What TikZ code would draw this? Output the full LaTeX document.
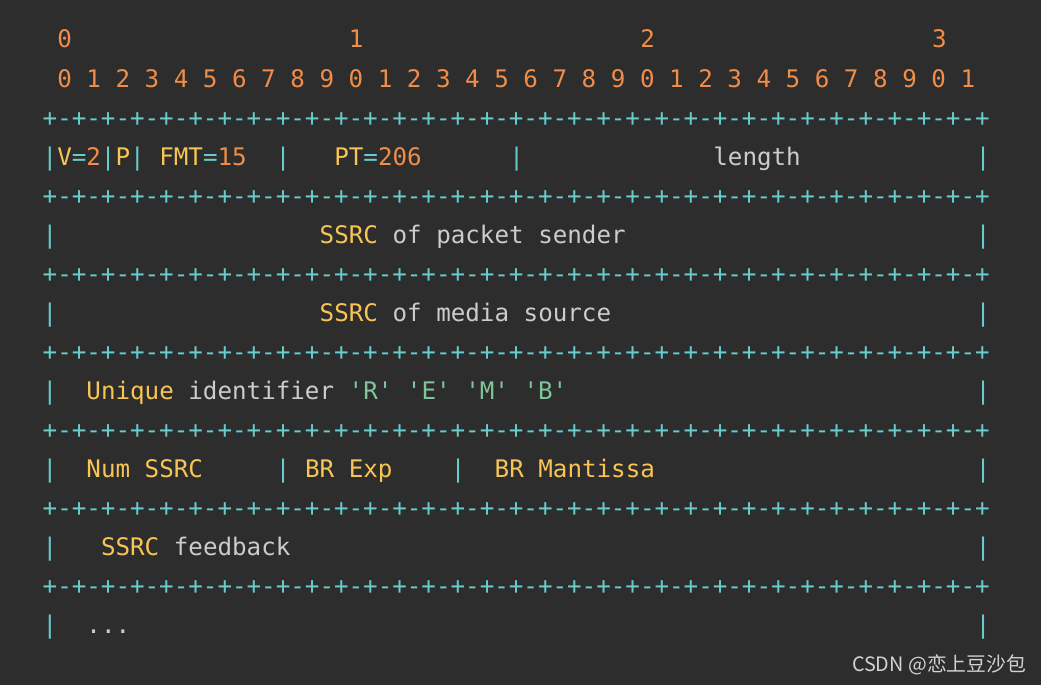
\documentclass[tikz,border=0pt]{standalone}
\usepackage{fontspec}
\newfontfamily\codefont{DejaVu Sans Mono}[Ligatures=TeXOff]
\newfontfamily\cjkfont{Noto Sans CJK SC}
\definecolor{bgc}{HTML}{2D2D2D}
\definecolor{opc}{HTML}{67CDCC}
\definecolor{numc}{HTML}{F08D49}
\definecolor{clsc}{HTML}{F8C555}
\definecolor{txtc}{HTML}{CCCCCC}
\definecolor{strc}{HTML}{7EC699}
\definecolor{wmc}{HTML}{D2D2D2}
\tikzset{
  tok/.style={anchor=base west, inner sep=0pt, outer sep=0pt,
    font=\codefont\fontsize{24.2}{29}\selectfont},
  wmark/.style={anchor=base west, inner sep=0pt, outer sep=0pt,
    font=\cjkfont\fontsize{19.8}{23}\selectfont, text=wmc}
}
\newcommand\tk[5]{\node[tok,text=#4] (#5) at ({42.7+14.58*#2},{48+39*#1}) {#3};}
\newcommand\plusdash{+-}
\newcommand\plusdashs{\plusdash\plusdash\plusdash\plusdash\plusdash\plusdash\plusdash\plusdash}
\newcommand\borderline{\plusdashs\plusdashs\plusdashs\plusdashs+}
\newcommand\op[1]{\textcolor{opc}{#1}}
\newcommand\nm[1]{\textcolor{numc}{#1}}
\newcommand\cl[1]{\textcolor{clsc}{#1}}
\newcommand\tx[1]{\textcolor{txtc}{#1}}
\newcommand\st[1]{\textcolor{strc}{#1}}
\begin{document}
\begin{tikzpicture}[x=1pt,y=-1pt]
\fill[bgc] (0,0) rectangle (1041,685);
\useasboundingbox (0,0) rectangle (1041,685);
% bit index header
\tk{0}{1}{0}{numc}{h0}
\tk{0}{21}{1}{numc}{h1}
\tk{0}{41}{2}{numc}{h2}
\tk{0}{61}{3}{numc}{h3}
\tk{1}{1}{0 1 2 3 4 5 6 7 8 9 0 1 2 3 4 5 6 7 8 9 0 1 2 3 4 5 6 7 8 9 0 1}{numc}{bits}
% border lines
\tk{2}{0}{\borderline}{opc}{b2}
\tk{4}{0}{\borderline}{opc}{b4}
\tk{6}{0}{\borderline}{opc}{b6}
\tk{8}{0}{\borderline}{opc}{b8}
\tk{10}{0}{\borderline}{opc}{b10}
\tk{12}{0}{\borderline}{opc}{b12}
\tk{14}{0}{\borderline}{opc}{b14}
% row: header word
\tk{3}{0}{\op{|}\cl{V}\op{=}\nm{2}\op{|}\cl{P}\op{|}}{opc}{r3a}
\tk{3}{8}{\cl{FMT}\op{=}\nm{15}}{clsc}{r3b}
\tk{3}{16}{|}{opc}{r3c}
\tk{3}{20}{\cl{PT}\op{=}\nm{206}}{clsc}{r3d}
\tk{3}{32}{|}{opc}{r3e}
\tk{3}{46}{length}{txtc}{r3f}
\tk{3}{64}{|}{opc}{r3g}
% SSRC of packet sender
\tk{5}{0}{|}{opc}{r5a}
\tk{5}{19}{\cl{SSRC} \tx{of packet sender}}{txtc}{r5b}
\tk{5}{64}{|}{opc}{r5c}
% SSRC of media source
\tk{7}{0}{|}{opc}{r7a}
\tk{7}{19}{\cl{SSRC} \tx{of media source}}{txtc}{r7b}
\tk{7}{64}{|}{opc}{r7c}
% unique identifier
\tk{9}{0}{|}{opc}{r9a}
\tk{9}{3}{\cl{Unique} \tx{identifier} \st{'R'} \st{'E'} \st{'M'} \st{'B'}}{txtc}{r9b}
\tk{9}{64}{|}{opc}{r9c}
% Num SSRC / BR Exp / BR Mantissa
\tk{11}{0}{|}{opc}{r11a}
\tk{11}{3}{Num SSRC}{clsc}{r11b}
\tk{11}{16}{|}{opc}{r11c}
\tk{11}{18}{BR Exp}{clsc}{r11d}
\tk{11}{28}{|}{opc}{r11e}
\tk{11}{31}{BR Mantissa}{clsc}{r11f}
\tk{11}{64}{|}{opc}{r11g}
% SSRC feedback
\tk{13}{0}{|}{opc}{r13a}
\tk{13}{4}{\cl{SSRC} \tx{feedback}}{txtc}{r13b}
\tk{13}{64}{|}{opc}{r13c}
% ...
\tk{15}{0}{|}{opc}{r15a}
\tk{15}{3}{...}{txtc}{r15b}
\tk{15}{64}{|}{opc}{r15c}
% watermark
\node[wmark] (wm) at (852,671) {CSDN @恋上豆沙包};
\end{tikzpicture}
\end{document}
